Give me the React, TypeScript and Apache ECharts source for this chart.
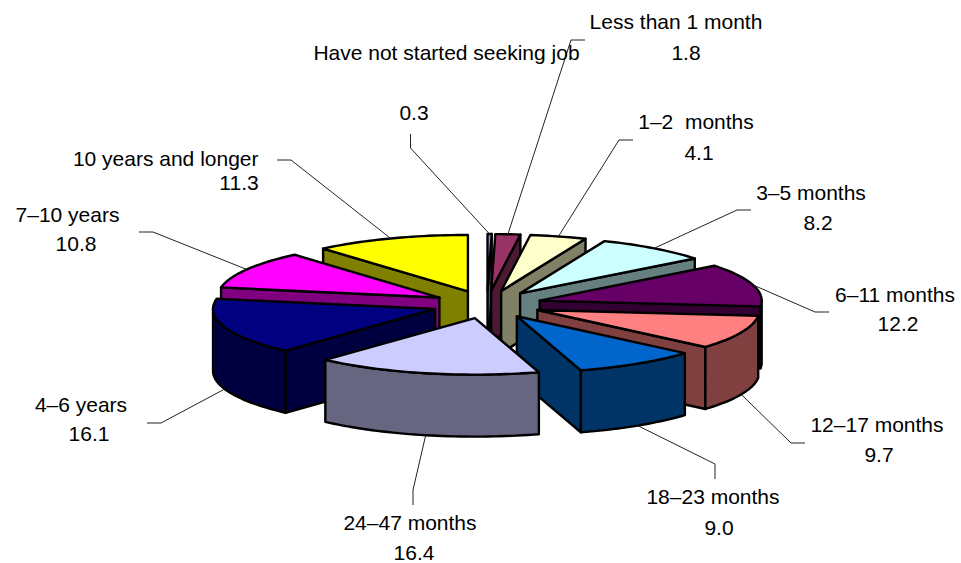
import React, { useEffect, useRef } from "react";
import * as echarts from "echarts";

// Data, clockwise from twelve o'clock
const categories = [
  "Have not started seeking job",
  "Less than 1 month",
  "1–2  months",
  "3–5 months",
  "6–11 months",
  "12–17 months",
  "18–23 months",
  "24–47 months",
  "4–6 years",
  "7–10 years",
  "10 years and longer",
];
const values = [0.3, 1.8, 4.1, 8.2, 12.2, 9.7, 9.0, 16.4, 16.1, 10.8, 11.3];

// Styles
const topColors = ["#9999FF", "#993366", "#FFFFCC", "#CCFFFF", "#660066", "#FF8080", "#0066CC", "#CCCCFF", "#000080", "#FF00FF", "#FFFF00"];
const wallColors = ["#4C4C80", "#4C1933", "#808066", "#668080", "#330033", "#804040", "#003366", "#666680", "#000040", "#800080", "#808000"];

// Layout: label line centres [nameX, nameY, valueX, valueY]
const labelLayout = [
  [446.5, 52, 414, 112],
  [676, 21, 686, 52],
  [696, 121, 699, 152],
  [811, 192, 818, 222],
  [895, 294, 898, 323],
  [877, 424, 879, 454],
  [713, 496, 719, 527],
  [410, 522, 414, 552],
  [81, 404, 89, 433],
  [67.5, 214, 76, 243],
  [165.7, 158, 239, 182],
];
// Layout: leader line elbow and end
const leaderLayout = [
  [[410.5, 148], [410.5, 134]],
  [[571, 40], [585, 40]],
  [[619, 140], [633, 140]],
  [[737, 210], [751, 210]],
  [[815, 312], [829, 312]],
  [[791, 443], [805, 443]],
  [[715, 464], [715, 479]],
  [[413, 490], [413, 505]],
  [[161, 423], [147, 423]],
  [[153, 232], [139, 232]],
  [[291, 160], [277, 160]],
];

const CX = 487;
const CY = 304.5;
const RX = 222;
const RY = 56.5;
const EXPLODE = 0.247;
const DEPTH = 62;
const FONT = '21px "Liberation Sans", Arial, sans-serif';

const total = values.reduce((s, v) => s + v, 0);
const rad = (d: number) => (d * Math.PI) / 180;
const spans = values.map((_, i) => {
  const before = values.slice(0, i).reduce((s, v) => s + v, 0);
  const a0 = (before / total) * 360;
  const a1 = ((before + values[i]) / total) * 360;
  const mid = (a0 + a1) / 2;
  const tip = [CX + EXPLODE * RX * Math.sin(rad(mid)), CY - EXPLODE * RY * Math.cos(rad(mid))];
  return { a0, a1, mid, tip };
});
const rim = (tip: number[], a: number, dy = 0) => [
  tip[0] + RX * Math.sin(rad(a)),
  tip[1] - RY * Math.cos(rad(a)) + dy,
];
const arc = (tip: number[], from: number, to: number, dy = 0) => {
  const n = Math.max(2, Math.ceil(Math.abs(to - from) / 1.5));
  const pts: number[][] = [];
  for (let k = 0; k <= n; k++) pts.push(rim(tip, from + ((to - from) * k) / n, dy));
  return pts;
};

// back to front
const drawOrder = values
  .map((_, i) => i)
  .sort((p, q) => Math.cos(rad(spans[q].mid)) - Math.cos(rad(spans[p].mid)));

function renderItem(_params: any, api: any) {
  const i = api.value(1) as number;
  const { a0, a1, mid, tip } = spans[i];
  const base = drawOrder.indexOf(i) * 10 + 1;
  const edge = { stroke: "#000", lineWidth: 2.4, lineJoin: "round" };
  const wall = { ...edge, fill: wallColors[i] };
  const children: any[] = [];
  const radial = (a: number, z: number) => {
    const p = rim(tip, a);
    children.push({
      type: "polygon",
      z2: base + z,
      shape: { points: [tip, p, [p[0], p[1] + DEPTH], [tip[0], tip[1] + DEPTH]] },
      style: wall,
    });
  };
  if (Math.sin(rad(a0)) < 0) radial(a0, 0);
  if (Math.sin(rad(a1)) > 0) radial(a1, 0);
  const w0 = Math.max(a0, 90);
  const w1 = Math.min(a1, 270);
  if (w1 > w0) {
    children.push({
      type: "polygon",
      z2: base + 1,
      shape: { points: [...arc(tip, w0, w1), ...arc(tip, w1, w0, DEPTH)] },
      style: wall,
    });
  }
  children.push({
    type: "polygon",
    z2: base + 2,
    shape: { points: [tip, ...arc(tip, a0, a1)] },
    style: { ...edge, fill: topColors[i] },
  });

  // leader line from the slice's rim to its label
  const anchor = rim(tip, mid, Math.cos(rad(mid)) < 0 ? DEPTH : 0);
  children.push({
    type: "polyline",
    z2: 200,
    shape: { points: [anchor, ...leaderLayout[i]] },
    style: { stroke: "#222", lineWidth: 1, fill: "none" },
  });

  const [nx, ny, vx, vy] = labelLayout[i];
  const text = { fill: "#000", font: FONT, align: "center", verticalAlign: "middle" };
  children.push({ type: "text", z2: 300, style: { ...text, text: categories[i], x: nx, y: ny } });
  children.push({
    type: "text",
    z2: 300,
    style: { ...text, text: (api.value(0) as number).toFixed(1), x: vx, y: vy },
  });
  return { type: "group", children };
}

export default function App() {
  const ref = useRef<HTMLDivElement>(null);
  useEffect(() => {
    const chart = echarts.init(ref.current!, undefined, { renderer: "svg" });
    chart.setOption({
      animation: false,
      backgroundColor: "#fff",
      series: [
        {
          type: "custom",
          coordinateSystem: "none",
          silent: true,
          renderItem,
          data: drawOrder.map((i) => [values[i], i]),
        },
      ],
    });
    return () => chart.dispose();
  }, []);
  return <div ref={ref} style={{ position: "absolute", left: 0, top: 0, width: 961, height: 563 }} />;
}
